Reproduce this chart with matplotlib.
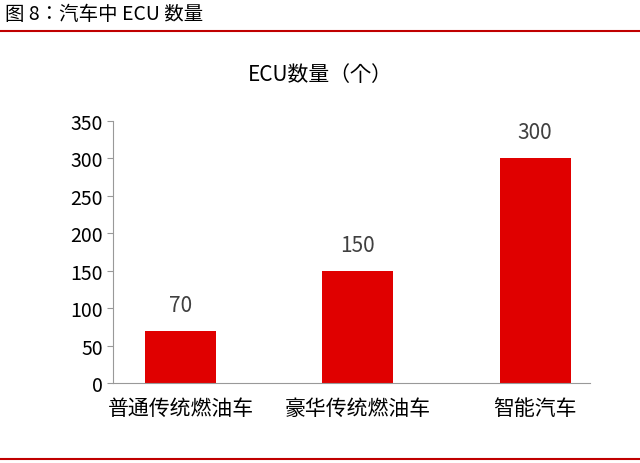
import matplotlib
matplotlib.use("Agg")
import matplotlib.pyplot as plt
from matplotlib.lines import Line2D
from matplotlib import font_manager

cands = ["Noto Sans CJK SC", "Noto Sans CJK JP", "Noto Sans CJK TC", "Noto Sans CJK KR"]
avail = {f.name for f in font_manager.fontManager.ttflist}
cjk = [c for c in cands if c in avail]
if not cjk:
    for f in font_manager.findSystemFonts():
        if "CJK" in f or "Noto" in f and "CJK" in f:
            try:
                font_manager.fontManager.addfont(f)
            except Exception:
                pass
    avail = {f.name for f in font_manager.fontManager.ttflist}
    cjk = [n for n in avail if "CJK" in n]
plt.rcParams["font.family"] = "sans-serif"
plt.rcParams["font.sans-serif"] = cjk + ["DejaVu Sans"]

categories = ["普通传统燃油车", "豪华传统燃油车", "智能汽车"]
values = [70, 150, 300]
yticks = [0, 50, 100, 150, 200, 250, 300, 350]

fig = plt.figure(figsize=(6.4, 4.64), dpi=100)
ax = fig.add_axes([0.177, 0.1724, 0.745, 0.5647])
red = "#E00000"
ax.bar(range(len(categories)), values, width=0.4, color=red)
for i, v in enumerate(values):
    ax.text(i, v + 20, str(v), ha="center", va="bottom", fontsize=15, color="#404040")
ax.set_xlim(-0.38, 2.31)
ax.set_ylim(0, 350)
ax.set_yticks(yticks)
ax.set_xticks(range(len(categories)))
ax.set_xticklabels(categories, fontsize=15, color="black")
ax.tick_params(axis="y", labelsize=14, length=4, color="#999999")
ax.tick_params(axis="x", length=0, pad=10)
for s in ["top", "right"]:
    ax.spines[s].set_visible(False)
for s in ["left", "bottom"]:
    ax.spines[s].set_color("#999999")

fig.text(0.5, 1 - 75 / 464, "ECU数量（个）", ha="center", va="center", fontsize=15)
fig.text(0.008, 1 - 15 / 464, "图 8：汽车中 ECU 数量", ha="left", va="center", fontsize=14)
fig.add_artist(Line2D([0, 1], [1 - 32 / 464] * 2, color="#C00000", lw=1.5))
fig.add_artist(Line2D([0, 1], [1 - 460 / 464] * 2, color="#C00000", lw=1.5))

fig.savefig("out.png", dpi=100)
